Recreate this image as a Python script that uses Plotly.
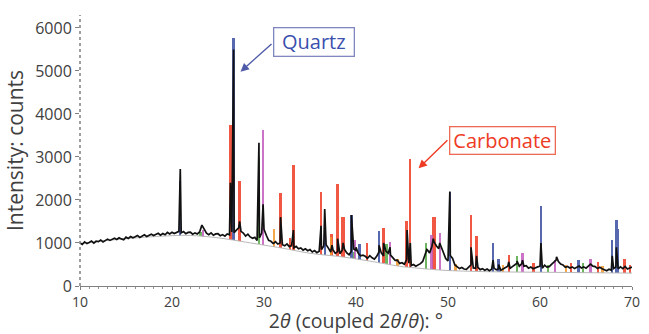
import numpy as np
import plotly.graph_objects as go

two_theta = np.round(np.arange(10, 70.001, 0.25), 2)
counts = [
    1000, 965, 1025, 985,
    1010, 1045, 995, 1040,
    1030, 1070, 1025, 1055,
    1090, 1060, 1085, 1110,
    1080, 1120, 1095, 1075,
    1135, 1105, 1150, 1120,
    1145, 1175, 1130, 1160,
    1190, 1150, 1170, 1205,
    1175, 1200, 1225, 1180,
    1220, 1190, 1245, 1210,
    1250, 1220, 1240, 1270,
    1235, 1265, 1215, 1245,
    1250, 1205, 1235, 1210,
    1255, 1415, 1335, 1230,
    1195, 1235, 1180, 1210,
    1215, 1170, 1195, 1160,
    1210, 1190, 1255, 1240,
    1300, 1350, 1270, 1230,
    1160, 1205, 1140, 1110,
    1130, 1060, 1120, 1230,
    1320, 1180, 1060, 1040,
    990, 1030, 975, 1000,
    960, 935, 980, 915,
    940, 890, 920, 865,
    885, 835, 865, 820,
    845, 790, 825, 775,
    810, 850, 930, 960,
    880, 790, 840, 760,
    800, 750, 830, 850,
    770, 725, 810, 860,
    830, 760, 700, 715,
    690, 645, 705, 655,
    625, 690, 790, 770,
    700, 810, 760, 720,
    660, 595, 600, 525,
    540, 505, 610, 530,
    475, 500, 460, 490,
    520, 570, 710, 840,
    770, 920, 1020, 930,
    870, 910, 780, 640,
    580, 710, 640, 490,
    450, 405, 430, 395,
    385, 430, 490, 420,
    410, 435, 380, 400,
    365, 395, 355, 390,
    415, 375, 400, 365,
    395, 425, 460, 410,
    450, 500, 530, 460,
    515, 460, 470, 415,
    440, 400, 430, 445,
    460, 415, 485, 440,
    450, 500, 540, 600,
    570, 510, 490, 435,
    455, 420, 445, 405,
    430, 465, 420, 445,
    415, 465, 510, 460,
    450, 405, 435, 400,
    385, 355, 390, 365,
    405, 440, 400, 445,
    405, 455, 395, 420,
    440,
]

# sharp reflections of the measured pattern
peak_pos = [20.9, 26.35, 26.7, 27.35, 29.45, 29.9, 31.1, 31.8, 33.2, 36.2, 36.6,
            37.4, 38.0, 38.6, 39.5, 40.0, 42.5, 43.0, 43.7, 45.55, 45.9, 47.7,
            48.4, 49.1, 50.2, 52.5, 53.1, 54.9, 55.5, 56.6, 57.5, 58.1, 60.1,
            61.8, 64.2, 65.5, 67.85, 68.3, 69.2]
peak_counts = [2720, 2400, 5500, 1500, 3330, 1900, 1000, 1600, 1300, 1400, 1790,
               950, 1100, 1000, 1650, 900, 950, 1000, 900, 1300, 1000, 850,
               1100, 1000, 2195, 900, 700, 600, 500, 560, 580, 600, 1000,
               680, 460, 500, 700, 900, 460]

# fitted background
bg_pos = [10, 15, 20, 22, 25, 28, 30, 32, 35, 38, 40, 42, 45, 46, 48, 50, 55, 60, 65, 70]
bg_counts = [990, 1100, 1170, 1175, 1120, 1020, 950, 880, 760, 690, 630, 560, 450,
             430, 390, 360, 330, 320, 310, 300]

# phase reflections (position, intensity)
red_pos = [26.35, 27.35, 31.8, 32.8, 33.2, 36.2, 37.35, 38.0, 38.5, 38.7, 41.2, 43.0,
           45.5, 45.9, 48.4, 48.6, 52.5, 53.1, 56.6, 59.3, 63.4, 66.3, 69.2, 69.8]
red_int = [3750, 2450, 2165, 1125, 2820, 2190, 1200, 2375, 1610, 1610, 1010, 1350,
           1500, 2950, 1615, 1615, 1640, 1170, 720, 540, 540, 560, 620, 490]
blue_pos = [20.9, 26.7, 36.6, 39.5, 40.4, 42.5, 50.2, 54.9, 55.5, 60.1, 64.2, 67.85,
            68.3, 68.45]
blue_int = [2450, 5770, 1300, 1650, 980, 1280, 2195, 990, 630, 1850, 600, 1070,
            1535, 1320]
green_pos = [23.1, 29.45, 39.8, 43.3, 47.6, 57.5, 60.9, 64.7]
green_int = [1250, 3000, 800, 975, 1000, 700, 490, 540]
magenta_pos = [23.35, 29.9, 39.9, 43.7, 48.2, 49.1, 58.1, 61.6, 65.5]
magenta_int = [1300, 3630, 1075, 1025, 1190, 1235, 770, 605, 620]
orange_pos = [31.1, 37.25, 44.5, 50.8, 56.0, 62.8, 66.8]
orange_int = [1330, 1150, 620, 500, 480, 480, 470]

x_ticks = [10, 20, 30, 40, 50, 60, 70]
y_ticks = [0, 1000, 2000, 3000, 4000, 5000, 6000]

# merge the scan and the sharp reflections into one profile
pts = sorted(list(zip(two_theta.tolist(), counts)) + list(zip(peak_pos, peak_counts)))
px = [p[0] for p in pts]
py = [p[1] for p in pts]

fig = go.Figure()
fig.add_trace(go.Scatter(x=bg_pos, y=bg_counts, mode="lines",
                         line=dict(color="#b8b8b8", width=1, shape="spline"),
                         hoverinfo="skip"))
fig.add_trace(go.Scatter(x=px, y=py, mode="lines",
                         line=dict(color="#111111", width=1.7), hoverinfo="skip"))

phase_sets = [
    (red_pos, red_int, "#ee3b24"),
    (orange_pos, orange_int, "#f39a2c"),
    (green_pos, green_int, "#56a845"),
    (magenta_pos, magenta_int, "#c35bbd"),
    (blue_pos, blue_int, "#3b4ea0"),
]
for pos, inten, col in phase_sets:
    base = np.interp(pos, bg_pos, bg_counts)
    fig.add_trace(go.Bar(x=pos, y=np.array(inten) - base, base=base, width=0.26,
                         marker=dict(color=col, line=dict(width=0)), opacity=0.85,
                         hoverinfo="skip"))

font_family = "Open Sans, DejaVu Sans, sans-serif"

fig.update_layout(
    width=649, height=334,
    margin=dict(l=80, r=17, t=15, b=48),
    paper_bgcolor="white", plot_bgcolor="white",
    showlegend=False, barmode="overlay", bargap=0,
    font=dict(family=font_family, color="#404040", size=15),
)
fig.update_xaxes(
    range=[10, 70], tickvals=x_ticks, showgrid=False, zeroline=False, automargin=False,
    showline=True, linecolor="#808080", linewidth=1,
    ticks="outside", ticklen=3, tickcolor="#808080",
    minor=dict(dtick=1, ticks="outside", ticklen=2, tickcolor="#909090", showgrid=False),
    tickfont=dict(size=14, color="#404040"),
    title=dict(text="2<i>θ</i> (coupled 2<i>θ</i>/<i>θ</i>): °",
               font=dict(size=19.5, color="#404040"), standoff=7),
)
fig.update_yaxes(
    range=[0, 6300], tickvals=y_ticks, showgrid=False, zeroline=False, automargin=False,
    showline=False, ticks="outside", ticklen=4, tickcolor="#808080",
    tickfont=dict(size=16, color="#404040"),
    title=dict(text="Intensity: counts", font=dict(size=21, color="#404040"), standoff=5),
)
# dotted vertical axis line
fig.add_shape(type="line", xref="paper", yref="paper", x0=0, x1=0, y0=0, y1=1,
              line=dict(color="#808080", width=1.5, dash="dot"))

# labels with arrows
fig.add_annotation(x=35.38, y=5669, xref="x", yref="y", text="Quartz", showarrow=False,
                   font=dict(size=20, color="#3a4fae", family=font_family),
                   width=73, height=21, borderpad=3,
                   bordercolor="#7f86c0", borderwidth=1.3, bgcolor="white")
fig.add_annotation(x=27.45, y=4983, ax=30.98, ay=5658, xref="x", yref="y",
                   axref="x", ayref="y", text="", showarrow=True, arrowhead=2,
                   arrowsize=1.2, arrowwidth=1.4, arrowcolor="#4f5aa8")
fig.add_annotation(x=55.87, y=3376, xref="x", yref="y", text="Carbonate", showarrow=False,
                   font=dict(size=20, color="#ee3b24", family=font_family),
                   width=98, height=20, borderpad=3,
                   bordercolor="#ee6a55", borderwidth=1.3, bgcolor="white")
fig.add_annotation(x=46.8, y=2736, ax=50.1, ay=3423, xref="x", yref="y",
                   axref="x", ayref="y", text="", showarrow=True, arrowhead=2,
                   arrowsize=1.2, arrowwidth=1.4, arrowcolor="#ee3b24")

fig.write_html("out.html", config={"displayModeBar": False},
               post_script="document.body.style.margin='0';")
